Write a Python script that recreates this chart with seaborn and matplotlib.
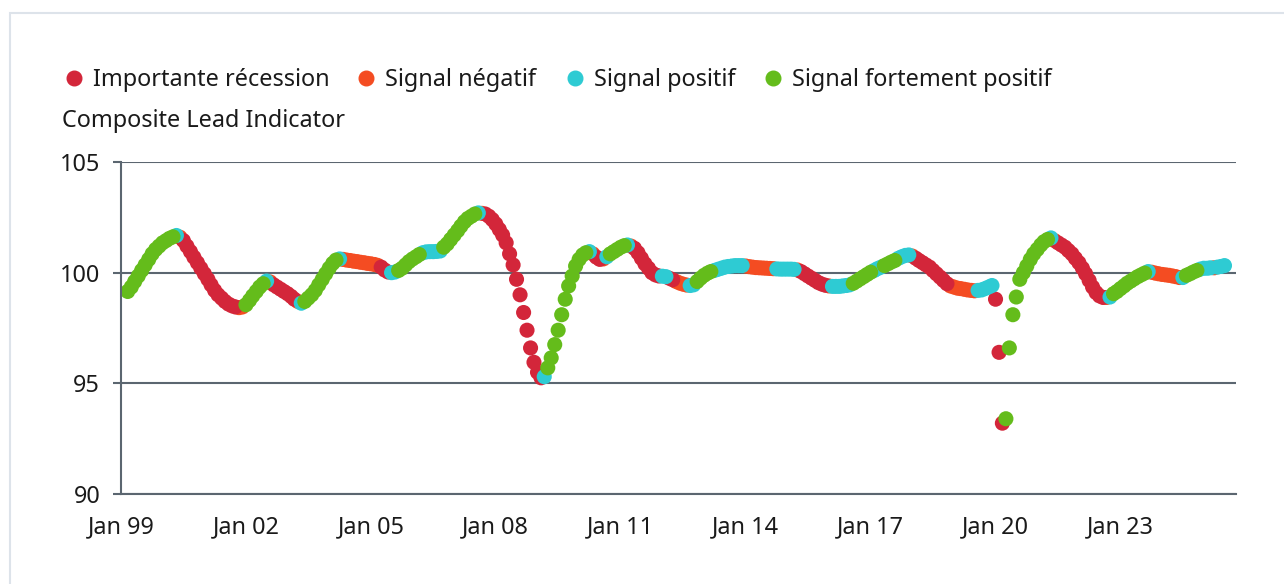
import matplotlib
matplotlib.use("Agg")
import matplotlib.pyplot as plt
import matplotlib.dates as mdates
from matplotlib.lines import Line2D
from matplotlib.patches import Rectangle
import numpy as np
import pandas as pd
import seaborn as sns

# Composite Lead Indicator, monthly, Mar 1999 - Jul 2025
cli_1999 = [99.15, 99.35, 99.6, 99.85, 100.1, 100.35, 100.6, 100.85, 101.05, 101.2]
cli_2000 = [101.35, 101.45, 101.55, 101.62, 101.68, 101.6, 101.45, 101.2, 100.95, 100.7, 100.45, 100.2]
cli_2001 = [99.95, 99.7, 99.45, 99.2, 99.0, 98.85, 98.7, 98.58, 98.5, 98.45, 98.42, 98.45]
cli_2002 = [98.55, 98.75, 98.95, 99.15, 99.35, 99.5, 99.62, 99.58, 99.45, 99.35, 99.25, 99.15]
cli_2003 = [99.05, 98.93, 98.8, 98.7, 98.62, 98.7, 98.85, 99.0, 99.2, 99.45, 99.7, 99.95]
cli_2004 = [100.2, 100.42, 100.57, 100.62, 100.6, 100.57, 100.55, 100.52, 100.5, 100.47, 100.45, 100.42]
cli_2005 = [100.4, 100.37, 100.33, 100.25, 100.12, 100.03, 100.0, 100.03, 100.1, 100.2, 100.35, 100.5]
cli_2006 = [100.62, 100.72, 100.82, 100.9, 100.94, 100.95, 100.95, 100.96, 100.98, 101.15, 101.3, 101.5]
cli_2007 = [101.7, 101.9, 102.1, 102.3, 102.45, 102.55, 102.65, 102.7, 102.68, 102.65, 102.55, 102.4]
cli_2008 = [102.2, 101.95, 101.7, 101.35, 100.85, 100.35, 99.7, 99.0, 98.2, 97.4, 96.6, 95.95]
cli_2009 = [95.5, 95.25, 95.3, 95.7, 96.15, 96.75, 97.4, 98.1, 98.8, 99.4, 99.85, 100.3]
cli_2010 = [100.6, 100.8, 100.9, 100.95, 100.85, 100.7, 100.6, 100.62, 100.72, 100.85, 100.95, 101.05]
cli_2011 = [101.15, 101.22, 101.25, 101.2, 101.1, 100.9, 100.65, 100.4, 100.2, 100.0, 99.9, 99.85]
cli_2012 = [99.84, 99.82, 99.75, 99.68, 99.6, 99.53, 99.48, 99.44, 99.42, 99.45, 99.6, 99.75]
cli_2013 = [99.88, 99.98, 100.05, 100.1, 100.15, 100.2, 100.25, 100.28, 100.3, 100.32, 100.32, 100.32]
cli_2014 = [100.3, 100.27, 100.25, 100.23, 100.22, 100.21, 100.2, 100.19, 100.18, 100.17, 100.16, 100.16]
cli_2015 = [100.16, 100.16, 100.15, 100.12, 100.05, 99.95, 99.85, 99.75, 99.65, 99.55, 99.48, 99.43]
cli_2016 = [99.4, 99.38, 99.38, 99.38, 99.4, 99.42, 99.45, 99.52, 99.62, 99.72, 99.82, 99.92]
cli_2017 = [100.02, 100.1, 100.18, 100.25, 100.32, 100.4, 100.48, 100.55, 100.65, 100.72, 100.78, 100.8]
cli_2018 = [100.75, 100.65, 100.55, 100.45, 100.35, 100.25, 100.1, 99.95, 99.8, 99.65, 99.5, 99.4]
cli_2019 = [99.35, 99.3, 99.28, 99.25, 99.22, 99.2, 99.18, 99.2, 99.22, 99.28, 99.35, 99.42]
cli_2020 = [98.8, 96.4, 93.2, 93.4, 96.6, 98.1, 98.9, 99.7, 100.0, 100.3, 100.6, 100.85]
cli_2021 = [101.05, 101.25, 101.4, 101.5, 101.57, 101.45, 101.35, 101.25, 101.15, 101.0, 100.85, 100.65]
cli_2022 = [100.45, 100.2, 99.95, 99.65, 99.35, 99.1, 98.95, 98.88, 98.88, 98.9, 99.05, 99.15]
cli_2023 = [99.28, 99.4, 99.52, 99.62, 99.72, 99.82, 99.9, 99.98, 100.05, 100.02, 99.98, 99.95]
cli_2024 = [99.92, 99.9, 99.88, 99.85, 99.82, 99.78, 99.78, 99.88, 99.95, 100.03, 100.1, 100.16]
cli_2025 = [100.2, 100.2, 100.22, 100.22, 100.25, 100.28, 100.32]

# signal per month: R = importante récession, O = négatif, C = positif, G = fortement positif
sig_by_year = [
    "GGGGGGGGGG",    # 1999 (from March)
    "GGGGCORRRRRR",  # 2000
    "RRRRRRRRRROO",  # 2001
    "GGGGGGCORRRR",  # 2002
    "RRROCGGGGGGG",  # 2003
    "GGGCOOOOOOOO",  # 2004
    "OOORRRCCGGGG",  # 2005
    "GGGCCCCCCGGG",  # 2006
    "GGGGGGGCORRR",  # 2007
    "RRRRRRRRRRRR",  # 2008
    "RRCGGGGGGGGG",  # 2009
    "GGGCORROCGGG",  # 2010
    "GGCORRRRRRRR",  # 2011
    "CCRROOOOCCGG",  # 2012
    "GGGCCCCCCCCC",  # 2013
    "OOOOOOOOOCCC",  # 2014
    "CCCORRRRRRRR",  # 2015
    "OCCCCCCGGGGG",  # 2016
    "GCCCGGGGCCCC",  # 2017
    "ORRRRRRRRRRO",  # 2018
    "OOOOOOOCCCCC",  # 2019
    "RRRGGGGGGGGG",  # 2020
    "GGGGCORRRRRR",  # 2021
    "RRRRRRRROCGG",  # 2022
    "GGGGGGGGCOOO",  # 2023
    "OOOOOOCGGGGC",  # 2024
    "CCCOCCC",       # 2025
]

signal_names = {
    "R": "Importante récession",
    "O": "Signal négatif",
    "C": "Signal positif",
    "G": "Signal fortement positif",
}
signal_colors = {
    "Importante récession": "#d3263a",
    "Signal négatif": "#f44c22",
    "Signal positif": "#2ecbd3",
    "Signal fortement positif": "#64bc1b",
}
# drawing order, later ones on top
layer_order = ["Signal négatif", "Importante récession", "Signal positif", "Signal fortement positif"]
tick_years = [1999, 2002, 2005, 2008, 2011, 2014, 2017, 2020, 2023]

cli = (cli_1999 + cli_2000 + cli_2001 + cli_2002 + cli_2003 + cli_2004 + cli_2005 + cli_2006
       + cli_2007 + cli_2008 + cli_2009 + cli_2010 + cli_2011 + cli_2012 + cli_2013 + cli_2014
       + cli_2015 + cli_2016 + cli_2017 + cli_2018 + cli_2019 + cli_2020 + cli_2021 + cli_2022
       + cli_2023 + cli_2024 + cli_2025)
signals = [signal_names[c] for c in "".join(sig_by_year)]

df = pd.DataFrame({
    "date": pd.date_range("1999-03-01", periods=len(cli), freq="MS"),
    "cli": cli,
    "signal": signals,
})
df["layer"] = df["signal"].map({s: i for i, s in enumerate(layer_order)})
df = df.sort_values("layer", kind="stable")

sns.set_theme(style="white")
plt.rcParams["font.family"] = ["Noto Sans", "DejaVu Sans"]
plt.rcParams["text.color"] = "#1a1a1a"

W, H = 1284, 584
grid_col = "#5b6670"
fsize = 16.9

fig = plt.figure(figsize=(W / 100, H / 100), dpi=100)
ax = fig.add_axes([121 / W, 1 - 494 / H, (1236 - 121) / W, (494 - 162) / H])

sns.scatterplot(data=df, x="date", y="cli", hue="signal", palette=signal_colors,
                s=118, linewidth=0, alpha=1, legend=False, ax=ax)

ax.set_ylim(90, 105)
ax.set_yticks([90, 95, 100, 105])
ax.set_xlim(pd.Timestamp("1999-01-01"), pd.Timestamp("2025-10-10"))
ax.set_xticks([pd.Timestamp(f"{y}-01-01") for y in tick_years])
ax.xaxis.set_major_formatter(mdates.DateFormatter("Jan %y"))
ax.set_xlabel("")
ax.set_ylabel("")

ax.yaxis.grid(True, color=grid_col, linewidth=1.5)
ax.xaxis.grid(False)
ax.set_axisbelow(True)
for side in ["top", "right"]:
    ax.spines[side].set_visible(False)
for side in ["left", "bottom"]:
    ax.spines[side].set_color(grid_col)
    ax.spines[side].set_linewidth(1.5)

ax.tick_params(axis="x", length=0, pad=15.5, labelsize=fsize, labelcolor="#1a1a1a")
ax.tick_params(axis="y", length=6, width=1.5, color=grid_col, pad=9, labelsize=fsize,
               labelcolor="#1a1a1a", left=True)

# y-axis title above the plot
fig.text(62 / W, 1 - 121 / H, "Composite Lead Indicator", ha="left", va="center", fontsize=fsize)

# legend row
legend_dot_x = [74, 366, 575, 773]
for name, dx in zip(["Importante récession", "Signal négatif", "Signal positif",
                     "Signal fortement positif"], legend_dot_x):
    fig.add_artist(Line2D([dx / W], [1 - 78 / H], transform=fig.transFigure, marker="o",
                          markersize=10.5, color=signal_colors[name], linestyle="none"))
    fig.text((dx + 19) / W, 1 - 80 / H, name, ha="left", va="center", fontsize=fsize)

# card border
fig.add_artist(Rectangle((10 / W, -0.1), 1.2, 1 - 13 / H + 0.1, transform=fig.transFigure,
                         fill=False, edgecolor="#dde3ea", linewidth=1.5))

fig.savefig("out.png", dpi=100)
